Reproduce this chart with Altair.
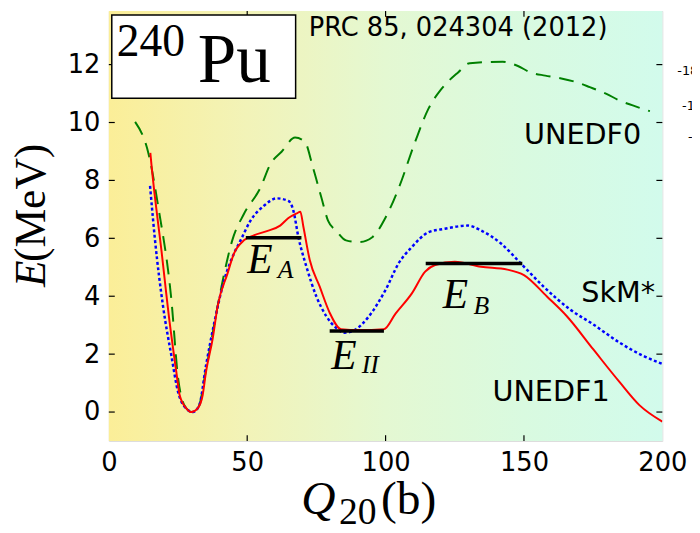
import altair as alt
import pandas as pd

# ---------------- data ----------------
q_unedf1 = [15, 15.5, 19, 22, 24.4, 25.6, 28, 29.8, 32.1, 33.9, 35.1, 37.5, 39.3, 42.9, 45.2,
            48.8, 52.4, 57.1, 61.9, 64.9, 67.9, 69.2, 70.3, 72.6, 76.2, 79.8, 83.9, 90.5, 99.4,
            103.6, 109.5, 114.3, 117.9, 125, 134.5, 144, 150, 158.3, 165.5, 175, 184.5, 191.7, 200]
e_unedf1 = [8.95, 8.45, 5.59, 3.08, 1.38, 0.58, 0.13, 0.0, 0.13, 0.58, 1.38, 2.52, 3.65, 4.79, 5.47,
            5.93, 6.10, 6.25, 6.44, 6.70, 6.86, 6.92, 6.40, 5.25, 4.33, 3.43, 2.86, 2.83, 2.86,
            3.40, 4.10, 4.85, 5.08, 5.19, 5.02, 4.92, 4.73, 3.99, 3.31, 2.17, 1.04, 0.24, -0.33]

q_skm = [14.9, 16.7, 19.6, 22.6, 25, 27.4, 30.4, 32.7, 35.1, 38.1, 41.7, 45.2, 47.6, 51.2, 56,
         60.7, 64.9, 66.7, 68.5, 71.4, 75, 78.6, 82.1, 85.1, 89.3, 94, 100, 104.8, 109.5, 115.5,
         121.4, 129.8, 134.5, 141.7, 149.4, 157.1, 166.7, 175, 184.5, 192.9, 200]
e_skm = [7.81, 5.93, 3.65, 1.95, 0.70, 0.18, 0.0, 0.24, 1.60, 3.08, 4.56, 5.47, 5.93, 6.61, 7.12,
         7.38, 7.29, 6.95, 6.04, 5.02, 3.99, 3.31, 2.91, 2.74, 2.86, 3.31, 4.22, 5.15, 5.70, 6.21,
         6.33, 6.44, 6.27, 5.82, 5.08, 4.33, 3.54, 3.03, 2.40, 1.95, 1.66]

q_unedf0 = [9.5, 14.3, 17.9, 22.6, 25, 27.5, 30, 32.5, 35, 39.3, 41.7, 44.6, 48.8, 54.8, 58.3,
            62.5, 67.3, 70.8, 73.8, 76.8, 79.2, 82.1, 85.7, 90.5, 95.2, 100, 104.8, 110.7, 115.5,
            120.2, 126.2, 130.4, 142.3, 147.6, 152.4, 157.7, 163.1, 169, 173.8, 179.8, 184.5,
            189.3, 195.5]
e_unedf0 = [10.02, 8.94, 7.07, 3.88, 1.20, 0.20, 0.0, 0.20, 1.40, 3.65, 4.79, 5.93, 6.84, 7.75, 8.55,
            9.00, 9.48, 9.34, 8.43, 7.41, 6.61, 6.27, 5.93, 5.87, 6.04, 6.72, 7.75, 9.34, 10.48,
            11.16, 11.73, 12.05, 12.10, 11.96, 11.73, 11.62, 11.53, 11.39, 11.22, 10.99, 10.76,
            10.59, 10.39]

# barrier / isomer levels
level_names = ["A", "II", "B"]
level_start = [49.5, 79.8, 114.5]
level_end = [69.6, 99.4, 149.4]
level_energy = [6.02, 2.80, 5.13]

x_ticks = [0, 50, 100, 150, 200]
y_ticks = [0, 2, 4, 6, 8, 10, 12]

X_DOMAIN = [0, 200]
Y_DOMAIN = [-1, 13.85]

XS = alt.Scale(domain=X_DOMAIN, nice=False, zero=False)
YS = alt.Scale(domain=Y_DOMAIN, nice=False, zero=False)

AX = alt.Axis(values=x_ticks, title="", grid=False, ticks=False, domain=False,
              labelFont="DejaVu Sans", labelFontSize=26, labelColor="black",
              labelPadding=9, labelFlush=False)
AY = alt.Axis(values=y_ticks, title="", grid=False, ticks=False, domain=False,
              labelFont="DejaVu Sans", labelFontSize=26, labelColor="black",
              labelPadding=9, labelFlush=False)

W, H = 560, 435


def X(field="x"):
    return alt.X(f"{field}:Q", scale=XS, axis=AX)


def Y(field="y"):
    return alt.Y(f"{field}:Q", scale=YS, axis=AY)


# ---------------- background gradient ----------------
bg_df = pd.DataFrame({"x": [X_DOMAIN[0]], "x2": [X_DOMAIN[1]], "y": [Y_DOMAIN[0]], "y2": [Y_DOMAIN[1]]})
gradient = alt.LinearGradient(
    gradient="linear",
    stops=[
        alt.GradientStop(color="#fbee98", offset=0),
        alt.GradientStop(color="#f2f3b8", offset=0.25),
        alt.GradientStop(color="#e4f8d2", offset=0.5),
        alt.GradientStop(color="#d9fae0", offset=0.75),
        alt.GradientStop(color="#d2fbec", offset=1),
    ],
    x1=0, x2=1, y1=0, y2=0,
)
background = alt.Chart(bg_df).mark_rect(fill=gradient, strokeWidth=0).encode(
    x=X(), x2="x2:Q", y=Y(), y2="y2:Q",
)


# ---------------- curves ----------------
def curve(q, e, color, width, dash=None):
    df = pd.DataFrame({"x": q, "y": e})
    kw = dict(color=color, strokeWidth=width, interpolate="monotone", clip=True)
    if dash:
        kw["strokeDash"] = dash
    return alt.Chart(df).mark_line(**kw).encode(x=X(), y=Y(), order="x:Q")


green = curve(q_unedf0, e_unedf0, "#008000", 2, [15, 9])
blue = curve(q_skm, e_skm, "#0000ff", 2.5, [3, 2.5])
red = curve(q_unedf1, e_unedf1, "#ff0000", 2)

levels_df = pd.DataFrame({"name": level_names, "x": level_start, "x2": level_end, "y": level_energy})
levels = alt.Chart(levels_df).mark_rule(color="black", strokeWidth=3.5).encode(
    x=X(), x2="x2:Q", y=Y()
)

# ---------------- inward ticks ----------------
tick_dx = 2.15   # ~6px in x units
tick_dy = 0.2    # ~6px in y units
yt_df = pd.DataFrame({
    "y": y_ticks * 2,
    "x": [X_DOMAIN[0]] * len(y_ticks) + [X_DOMAIN[1] - tick_dx] * len(y_ticks),
    "x2": [X_DOMAIN[0] + tick_dx] * len(y_ticks) + [X_DOMAIN[1]] * len(y_ticks),
})
inner_x = x_ticks[1:-1]
xt_df = pd.DataFrame({
    "x": inner_x * 2,
    "y": [Y_DOMAIN[0]] * len(inner_x) + [Y_DOMAIN[1] - tick_dy] * len(inner_x),
    "y2": [Y_DOMAIN[0] + tick_dy] * len(inner_x) + [Y_DOMAIN[1]] * len(inner_x),
})
yticks = alt.Chart(yt_df).mark_rule(color="black", strokeWidth=1.2).encode(
    x=X(), x2="x2:Q", y=Y())
xticks = alt.Chart(xt_df).mark_rule(color="black", strokeWidth=1.2).encode(
    x=X(), y=Y(), y2="y2:Q")

# ---------------- title box ----------------
box_df = pd.DataFrame({"x": [1.07], "x2": [67.5], "y": [10.84], "y2": [13.71]})
box = alt.Chart(box_df).mark_rect(fill="white", stroke="black", strokeWidth=1.5).encode(
    x=X(), x2="x2:Q", y=Y(), y2="y2:Q")


# ---------------- texts ----------------
def text_layer(xs, ys, texts, size, font, style="normal", angle=0, align="left"):
    df = pd.DataFrame({"x": xs, "y": ys, "t": texts})
    return alt.Chart(df).mark_text(
        fontSize=size, font=font, fontStyle=style, align=align, baseline="alphabetic",
        angle=angle, color="black",
    ).encode(x=X(), y=Y(), text="t:N")


SERIF = "Liberation Serif"
SANS = "DejaVu Sans"

t_pu = text_layer([32.1], [11.39], ["Pu"], 70, SERIF)
t_240 = text_layer([2.9], [12.31], ["240"], 46, SERIF)
t_ref = text_layer([72.2], [12.98], ["PRC 85, 024304 (2012)"], 26, SANS)
t_models = text_layer([150, 170.7, 138.6], [9.27, 3.81, 0.37], ["UNEDF0", "SkM*", "UNEDF1"], 29, SANS)

t_E = text_layer([50, 80.4, 120.7], [4.80, 1.49, 3.61], ["E", "E", "E"], 42, SERIF, "italic")
t_sub = text_layer([61.0, 91.4, 131.8], [4.63, 1.35, 3.37], ["A", "II", "B"], 26, SERIF, "italic")

t_Q = text_layer([69.5], [-3.53], ["Q"], 48, SERIF, "italic")
t_20 = text_layer([83.2], [-3.85], ["20"], 38, SERIF)
t_b = text_layer([98.3], [-3.53], ["(b)"], 48, SERIF)

t_yE = text_layer([-23.2], [4.32], ["E"], 44, SERIF, "italic", angle=270)
t_yMeV = text_layer([-23.2], [5.18], ["(MeV)"], 44, SERIF, angle=270)

t_stray = text_layer([205.4, 207.1, 209.3], [11.63, 10.43, 9.35], ["-18", "-16", "-14"], 13, SANS)

chart = alt.layer(
    background, green, blue, red, levels, yticks, xticks, box,
    t_pu, t_240, t_ref, t_models, t_E, t_sub, t_Q, t_20, t_b, t_yE, t_yMeV, t_stray,
).properties(
    width=W, height=H,
    autosize=alt.AutoSizeParams(type="none"),
    padding={"left": 102, "top": 0, "right": 30, "bottom": 90},
).configure_view(
    stroke="black", strokeWidth=2,
).configure(
    background="white",
)

chart.save("out.html", embed_options={"renderer": "svg", "actions": False})
